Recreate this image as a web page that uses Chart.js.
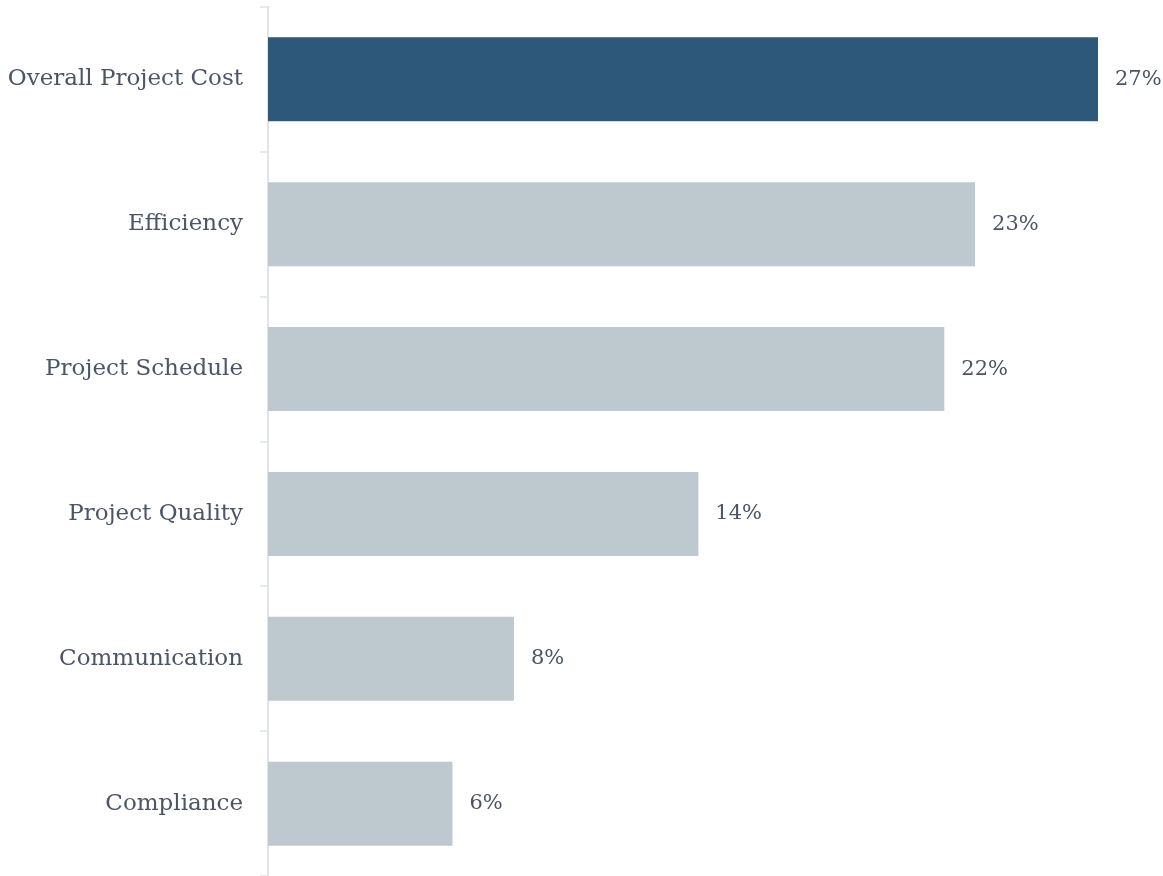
<!DOCTYPE html>
<html>
<head>
<meta charset="utf-8">
<script src="https://cdn.jsdelivr.net/npm/chart.js@4"></script>
<style>
  html, body { margin: 0; padding: 0; background: #ffffff; overflow: hidden; }
  #wrap { position: absolute; left: 0; top: -24px; width: 1163px; height: 931px; }
</style>
</head>
<body>
<div id="wrap"><canvas id="barChart"></canvas></div>
<script>
const categorias = ['Overall Project Cost', 'Efficiency', 'Project Schedule', 'Project Quality', 'Communication', 'Compliance'];
const valores = [27, 23, 22, 14, 8, 6];
const colores = ['#2d5879', '#bdc8cf', '#bdc8cf', '#bdc8cf', '#bdc8cf', '#bdc8cf'];

const textColor = '#4a5666';
const fontFamily = '"DejaVu Serif", "Liberation Serif", serif';

// Etiqueta de porcentaje al final de cada barra
const valueLabels = {
    id: 'valueLabels',
    afterDatasetsDraw(chart) {
        const ctx = chart.ctx;
        const meta = chart.getDatasetMeta(0);
        ctx.save();
        ctx.font = '21px ' + fontFamily;
        ctx.fillStyle = textColor;
        ctx.textAlign = 'left';
        ctx.textBaseline = 'middle';
        meta.data.forEach((bar, i) => {
            ctx.fillText(valores[i] + '%', bar.x + 17, bar.y);
        });
        ctx.restore();
    }
};

new Chart(document.getElementById('barChart').getContext('2d'), {
    type: 'bar',
    data: {
        labels: categorias,
        datasets: [{
            data: valores,
            backgroundColor: colores,
            borderWidth: 0,
            categoryPercentage: 0.58,
            barPercentage: 1
        }]
    },
    options: {
        indexAxis: 'y',
        responsive: true,
        maintainAspectRatio: false,
        animation: false,
        layout: { padding: { top: 0, right: 65, bottom: 0, left: 8 } },
        plugins: {
            legend: { display: false },
            tooltip: { enabled: false }
        },
        scales: {
            x: {
                display: false,
                min: 0,
                max: Math.max(...valores)
            },
            y: {
                afterFit: (scale) => { scale.width = 260; },
                border: { color: '#e0e4e8', width: 2 },
                grid: {
                    drawOnChartArea: false,
                    color: '#e6e9ed',
                    lineWidth: 2,
                    tickLength: 8
                },
                ticks: {
                    color: textColor,
                    padding: 17,
                    font: { family: fontFamily, size: 23 }
                }
            }
        }
    },
    plugins: [valueLabels]
});
</script>
</body>
</html>
